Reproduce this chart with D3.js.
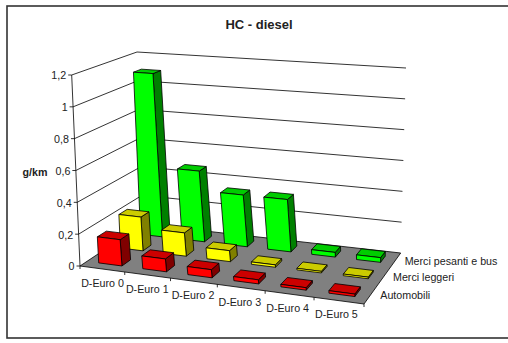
<!DOCTYPE html>
<html><head><meta charset="utf-8">
<script src="https://cdn.jsdelivr.net/npm/d3@7"></script>
<style>html,body{margin:0;padding:0;background:#fff}svg{display:block}text{font-family:"Liberation Sans",Arial,sans-serif;fill:#222}</style>
</head><body><svg id="c" width="508" height="343"></svg>
<script>
const categories=["D-Euro 0","D-Euro 1","D-Euro 2","D-Euro 3","D-Euro 4","D-Euro 5"];
const seriesNames=["Automobili","Merci leggeri","Merci pesanti e bus"];
const automobili=[0.165,0.08,0.05,0.025,0.015,0.015];
const merciLeggeri=[0.22,0.15,0.07,0.015,0.01,0.01];
const merciPesanti=[1.1,0.47,0.34,0.34,0.03,0.03];
const yTicks=[0,0.2,0.4,0.6,0.8,1,1.2];
const yLabels=["0","0,2","0,4","0,6","0,8","1","1,2"];
const palette=[["#ff0000","#cc0000","#800000"],["#ffff00","#cccc00","#808000"],["#00ff00","#00cc00","#008000"]];
const values=[automobili,merciLeggeri,merciPesanti];

const svg=d3.select("#c");
svg.append("rect").attr("x",7).attr("y",6).attr("width",520).attr("height",332).attr("fill","#fff").attr("stroke","#333").attr("stroke-width",1.6);

function homog(q){const [[x0,y0],[x1,y1],[x2,y2],[x3,y3]]=q;
 const dx1=x1-x2,dx2=x3-x2,sx=x0-x1+x2-x3,dy1=y1-y2,dy2=y3-y2,sy=y0-y1+y2-y3;
 const det=dx1*dy2-dx2*dy1,g=(sx*dy2-dx2*sy)/det,h=(dx1*sy-sx*dy1)/det;
 const a=x1-x0+g*x1,b=x3-x0+h*x3,c=x0,d=y1-y0+g*y1,e=y3-y0+h*y3,f=y0;
 return (u,v)=>{const w=g*u+h*v+1;return [(a*u+b*v+c)/w,(d*u+e*v+f)/w];};}
const floorH=homog([[80,266],[364,304],[400.7,253],[143,224]]);
const topH=homog([[71.7,75],[369,104],[406,68],[137,52]]);
const uScale=d3.scaleBand().domain(categories).range([0,1]).paddingInner(0.47).paddingOuter(0.27);
const uTick=d3.scalePoint().domain(d3.range(categories.length+1)).range([0,1]);
const vScale=d3.scaleBand().domain(seriesNames).range([0,1]).paddingInner(0.6).paddingOuter(0.3);
const yScale=d3.scaleLinear().domain([0,1.2]).range([0,1]);
const P=(u0,v,val)=>{const u=u0+0.05*u0*(1-u0),a=floorH(u,v),b=topH(u,v),t=yScale(val);return [a[0]+(b[0]-a[0])*t,a[1]+(b[1]-a[1])*t];};
const line=d3.line();

yTicks.forEach((t,i)=>{
 if(i>0) svg.append("path").attr("d",line([P(0,0,t),P(0,1,t),P(1,1,t)])).attr("fill","none").attr("stroke","#000").attr("stroke-width",0.8);
});
svg.append("path").attr("d",line([P(0,0,0),P(0,0,1.2)])).attr("fill","none").attr("stroke","#000").attr("stroke-width",0.8);
svg.append("path").attr("d",line([P(0,0,0),P(1,0,0),P(1,1,0),P(0,1,0)])+"Z").attr("fill","#808080").attr("stroke","#000").attr("stroke-width",0.8);

yTicks.forEach((t,i)=>{const p=P(0,0,t);
 svg.append("path").attr("d",line([p,[p[0]-3.5,p[1]]])).attr("stroke","#000").attr("stroke-width",0.8);
 svg.append("text").attr("x",p[0]-5.5).attr("y",p[1]+4.4).attr("text-anchor","end").attr("font-size",10.7).text(yLabels[i]);
});
uTick.domain().forEach(i=>{const p=P(uTick(i),0,0);
 svg.append("path").attr("d",line([p,[p[0],p[1]+3]])).attr("stroke","#000").attr("stroke-width",0.8);});
categories.forEach((c,i)=>{const p=P(uScale(c)+uScale.bandwidth()/2,0,0);
 svg.append("text").attr("x",p[0]-1).attr("y",p[1]+18).attr("text-anchor","middle").attr("font-size",10.7).text(c);});
seriesNames.forEach((s,i)=>{const p=P(1,vScale(s)+vScale.bandwidth()/2,0);
 svg.append("text").attr("x",p[0]+9.5).attr("y",p[1]+4.5).attr("font-size",10.7).text(s);});

const bars=[];
for(let s=seriesNames.length-1;s>=0;s--) categories.forEach((c,i)=>bars.push({s,c,v:values[s][i]}));
svg.append("g").selectAll("g").data(bars).join("g").each(function(d){
 const g=d3.select(this),u0=uScale(d.c),u1=u0+uScale.bandwidth(),v0=vScale(seriesNames[d.s]),v1=v0+vScale.bandwidth();
 const col=palette[d.s];
 const face=(pts,f)=>g.append("path").attr("d",line(pts)+"Z").attr("fill",f).attr("stroke","#000").attr("stroke-width",0.8).attr("stroke-linejoin","round");
 face([P(u1,v0,0),P(u1,v1,0),P(u1,v1,d.v),P(u1,v0,d.v)],col[2]);
 face([P(u0,v0,d.v),P(u1,v0,d.v),P(u1,v1,d.v),P(u0,v1,d.v)],col[1]);
 face([P(u0,v0,0),P(u1,v0,0),P(u1,v0,d.v),P(u0,v0,d.v)],col[0]);
});

svg.append("text").attr("x",259).attr("y",29).attr("text-anchor","middle").attr("font-size",13).attr("font-weight","bold").text("HC - diesel");
svg.append("text").attr("x",35).attr("y",176).attr("text-anchor","middle").attr("font-size",10.7).attr("font-weight","bold").text("g/km");
</script></body></html>
